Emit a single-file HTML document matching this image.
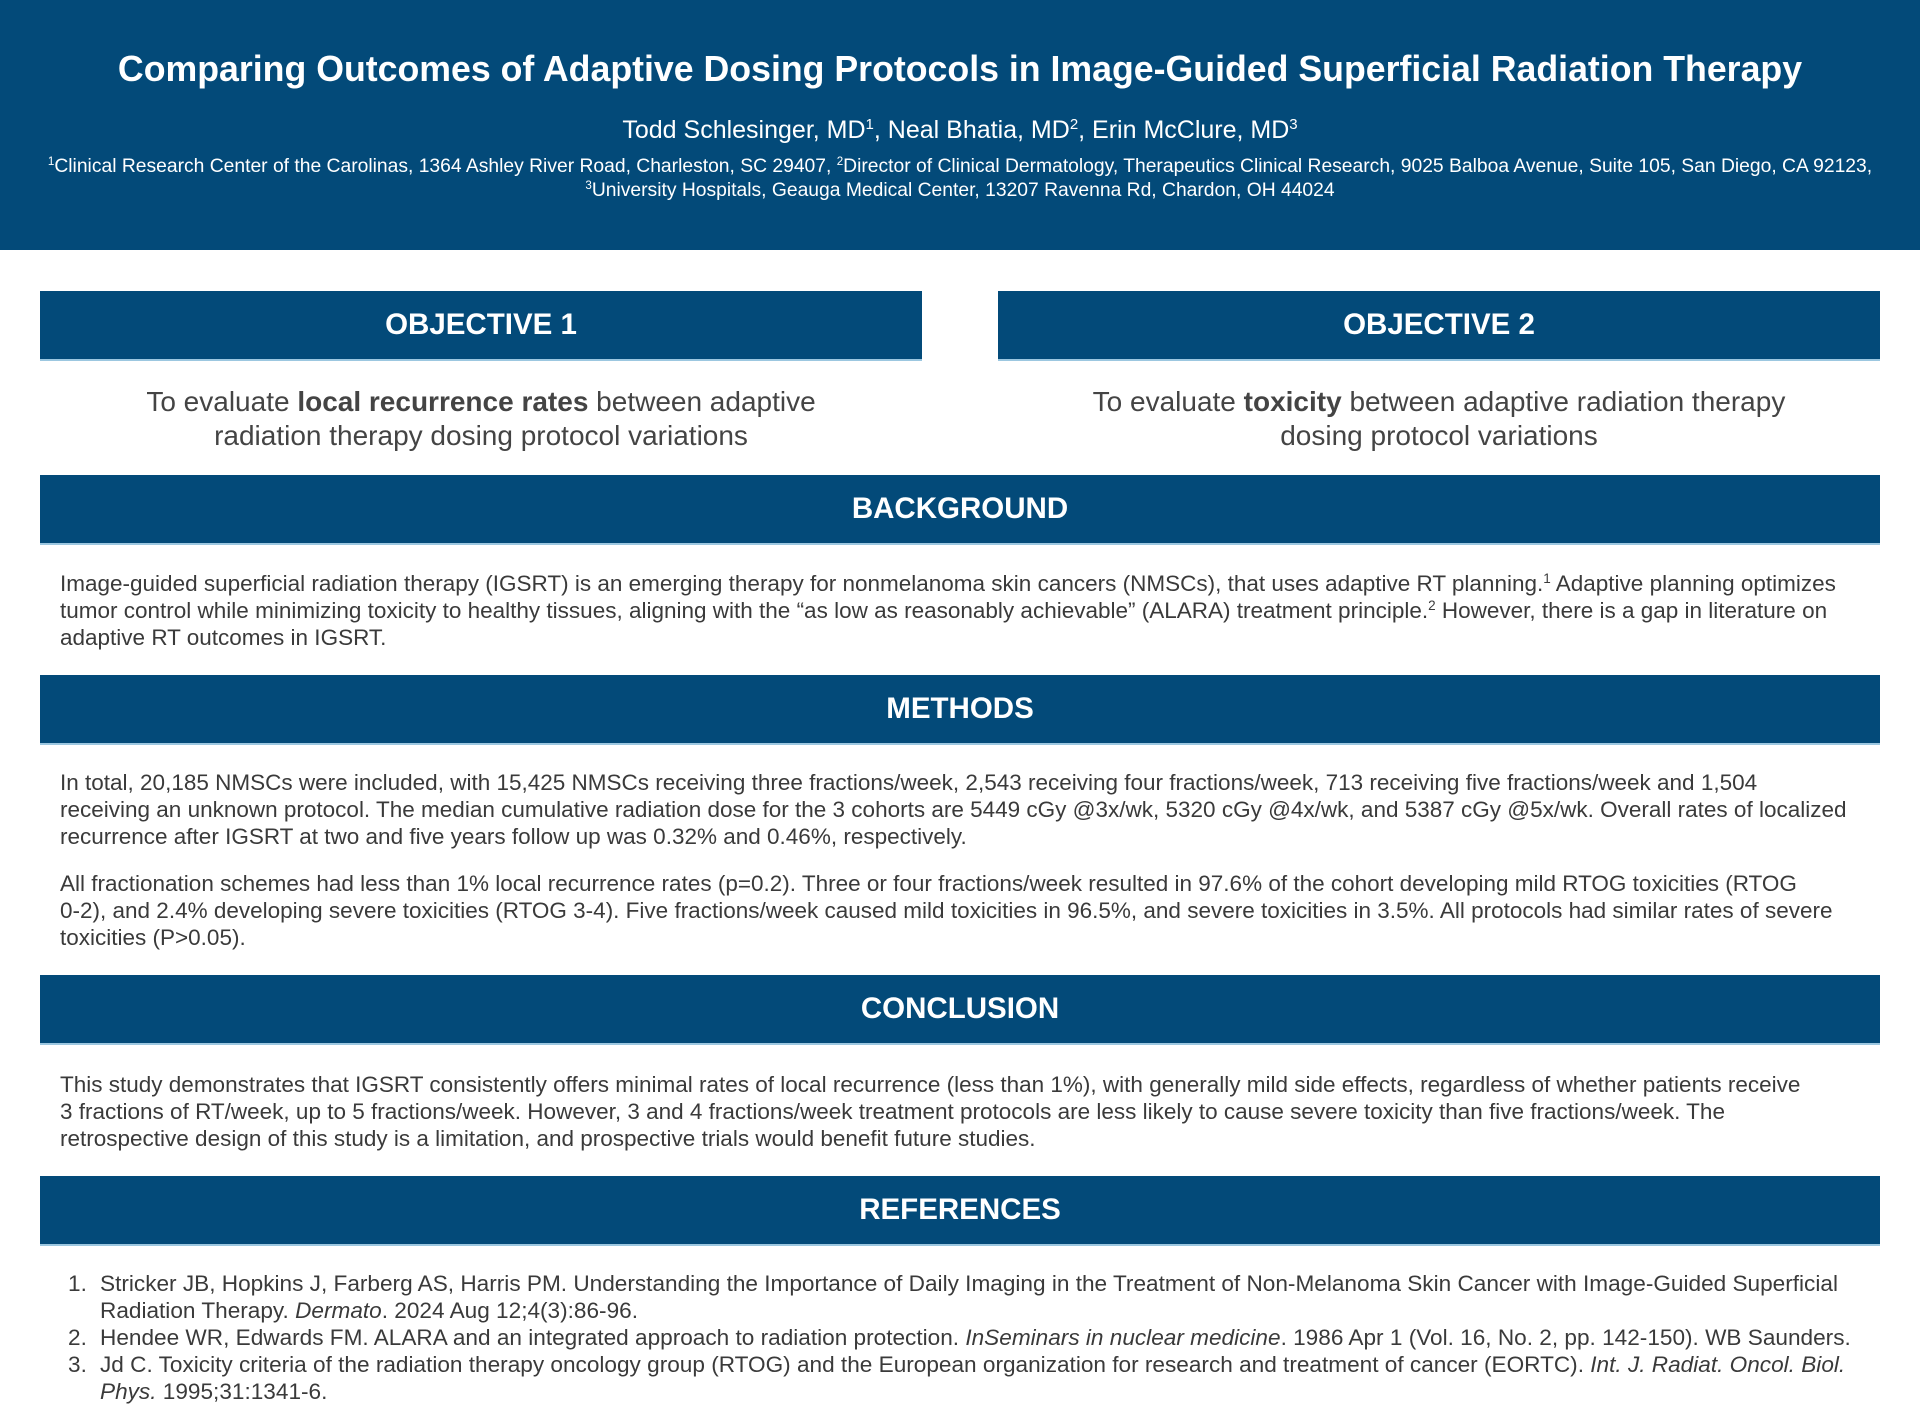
<!DOCTYPE html>
<html><head><meta charset="utf-8"><style>
*{margin:0;padding:0;box-sizing:border-box}
body{width:1920px;height:1412px;background:#fff;font-family:"Liberation Sans",sans-serif;position:relative;overflow:hidden;color:#3a3a3a}
.hdr{position:absolute;left:0;top:0;width:1920px;height:250px;background:#034a79}
.c{position:absolute;left:0;width:1920px;text-align:center;white-space:nowrap;color:#fff}
.bar{position:absolute;background:#034a79;color:#fff;font-weight:bold;font-size:29.5px;text-align:center;display:flex;align-items:center;justify-content:center;border-bottom:2px solid #9cc7e0}
.t{position:absolute;left:60px;font-size:22.5px;line-height:27px;white-space:nowrap;color:#3a3a3a}
.ot{position:absolute;font-size:28px;line-height:34px;text-align:center;color:#444;white-space:nowrap}
.ref{position:absolute;left:68px;font-size:22.6px;line-height:27px;white-space:nowrap}
.ref span{display:inline-block;width:32px}
sup{font-size:0.6em;vertical-align:0.6em;line-height:0}
</style></head><body>
<div class="hdr"></div>
<div class="c" style="top:48px;font-size:35.7px;font-weight:bold;line-height:42px">Comparing Outcomes of Adaptive Dosing Protocols in Image-Guided Superficial Radiation Therapy</div>
<div class="c" style="top:116px;font-size:25px;line-height:28px">Todd Schlesinger, MD<sup>1</sup>, Neal Bhatia, MD<sup>2</sup>, Erin McClure, MD<sup>3</sup></div>
<div class="c" style="top:155px;font-size:19.3px;line-height:24px"><sup>1</sup>Clinical Research Center of the Carolinas, 1364 Ashley River Road, Charleston, SC 29407, <sup>2</sup>Director of Clinical Dermatology, Therapeutics Clinical Research, 9025 Balboa Avenue, Suite 105, San Diego, CA 92123,<br><sup>3</sup>University Hospitals, Geauga Medical Center, 13207 Ravenna Rd, Chardon, OH 44024</div>

<div class="bar" style="left:40px;top:291px;width:882px;height:70px">OBJECTIVE 1</div>
<div class="bar" style="left:998px;top:291px;width:882px;height:70px">OBJECTIVE 2</div>
<div class="ot" style="left:40px;width:882px;top:385px">To evaluate <b>local recurrence rates</b> between adaptive<br>radiation therapy dosing protocol variations</div>
<div class="ot" style="left:998px;width:882px;top:385px">To evaluate <b>toxicity</b> between adaptive radiation therapy<br>dosing protocol variations</div>

<div class="bar" style="left:40px;top:475px;width:1840px;height:70px">BACKGROUND</div>
<div class="t" style="top:570px">Image-guided superficial radiation therapy (IGSRT) is an emerging therapy for nonmelanoma skin cancers (NMSCs), that uses adaptive RT planning.<sup>1</sup> Adaptive planning optimizes<br>tumor control while minimizing toxicity to healthy tissues, aligning with the “as low as reasonably achievable” (ALARA) treatment principle.<sup>2</sup> However, there is a gap in literature on<br>adaptive RT outcomes in IGSRT.</div>

<div class="bar" style="left:40px;top:675px;width:1840px;height:70px">METHODS</div>
<div class="t" style="top:769px">In total, 20,185 NMSCs were included, with 15,425 NMSCs receiving three fractions/week, 2,543 receiving four fractions/week, 713 receiving five fractions/week and 1,504<br>receiving an unknown protocol. The median cumulative radiation dose for the 3 cohorts are 5449 cGy @3x/wk, 5320 cGy @4x/wk, and 5387 cGy @5x/wk. Overall rates of localized<br>recurrence after IGSRT at two and five years follow up was 0.32% and 0.46%, respectively.</div>
<div class="t" style="top:870px">All fractionation schemes had less than 1% local recurrence rates (p=0.2). Three or four fractions/week resulted in 97.6% of the cohort developing mild RTOG toxicities (RTOG<br>0-2), and 2.4% developing severe toxicities (RTOG 3-4). Five fractions/week caused mild toxicities in 96.5%, and severe toxicities in 3.5%. All protocols had similar rates of severe<br>toxicities (P&gt;0.05).</div>

<div class="bar" style="left:40px;top:975px;width:1840px;height:70px">CONCLUSION</div>
<div class="t" style="top:1071px">This study demonstrates that IGSRT consistently offers minimal rates of local recurrence (less than 1%), with generally mild side effects, regardless of whether patients receive<br>3 fractions of RT/week, up to 5 fractions/week. However, 3 and 4 fractions/week treatment protocols are less likely to cause severe toxicity than five fractions/week. The<br>retrospective design of this study is a limitation, and prospective trials would benefit future studies.</div>

<div class="bar" style="left:40px;top:1176px;width:1840px;height:70px">REFERENCES</div>
<div class="ref" style="top:1270px"><span>1.</span>Stricker JB, Hopkins J, Farberg AS, Harris PM. Understanding the Importance of Daily Imaging in the Treatment of Non-Melanoma Skin Cancer with Image-Guided Superficial<br><span></span>Radiation Therapy. <i>Dermato</i>. 2024 Aug 12;4(3):86-96.<br><span>2.</span>Hendee WR, Edwards FM. ALARA and an integrated approach to radiation protection. <i>InSeminars in nuclear medicine</i>. 1986 Apr 1 (Vol. 16, No. 2, pp. 142-150). WB Saunders.<br><span>3.</span>Jd C. Toxicity criteria of the radiation therapy oncology group (RTOG) and the European organization for research and treatment of cancer (EORTC). <i>Int. J. Radiat. Oncol. Biol.</i><br><span></span><i>Phys.</i> 1995;31:1341-6.</div>
</body></html>
